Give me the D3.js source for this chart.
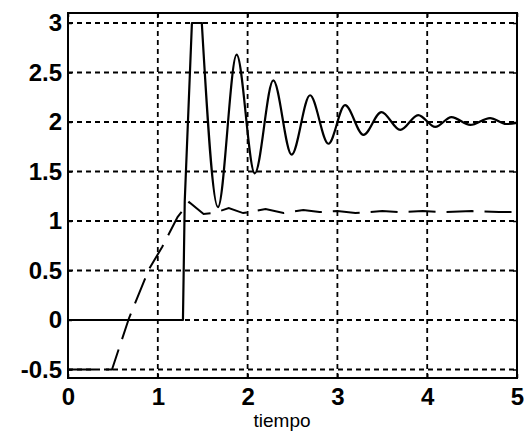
<!DOCTYPE html>
<html>
<head>
<meta charset="utf-8">
<script src="https://cdn.jsdelivr.net/npm/d3@7"></script>
<style>
  html, body { margin: 0; padding: 0; background: #fff; }
  svg { display: block; }
</style>
</head>
<body>
<svg id="chart" width="524" height="431"></svg>
<script>
// ---- data ----
const xTicks = [0, 1, 2, 3, 4, 5];
const yTicks = [-0.5, 0, 0.5, 1, 1.5, 2, 2.5, 3];
const yTickLabels = ["-0.5", "0", "0.5", "1", "1.5", "2", "2.5", "3"];
const xLabel = "tiempo";

// solid response (time, value)
const solidT = [0, 1.28, 1.30, 1.38, 1.49, 1.67, 1.878, 2.08, 2.286, 2.49, 2.695, 2.90, 3.085, 3.29, 3.49, 3.70, 3.90, 4.09, 4.27, 4.48, 4.70, 4.88, 5.0];
const solidV = [0, 0, 1.2, 3.0, 3.0, 1.14, 2.68, 1.48, 2.42, 1.67, 2.27, 1.78, 2.17, 1.87, 2.10, 1.92, 2.07, 1.95, 2.05, 1.97, 2.04, 1.98, 1.99];
const solidSharpCount = 5; // first points joined by straight segments (step + clipped top)

// dashed response (time, value)
const dashT = [0, 0.49, 0.68, 0.90, 1.05, 1.22, 1.35, 1.51, 1.62, 1.79, 1.95, 2.2, 2.4, 2.62, 2.8, 3.0, 3.2, 3.5, 3.7, 3.95, 4.2, 4.5, 4.8, 5.0];
const dashV = [-0.5, -0.5, 0.02, 0.51, 0.74, 1.04, 1.19, 1.07, 1.08, 1.13, 1.08, 1.12, 1.08, 1.11, 1.09, 1.10, 1.08, 1.10, 1.09, 1.10, 1.09, 1.10, 1.09, 1.09];

// ---- layout ----
const pL = 68, pR = 517, pT = 13, pB = 378;
const svg = d3.select("#chart");

const x = d3.scaleLinear().domain([0, 5]).range([pL, pR]);
const y = d3.scaleLinear().domain([-0.586, 3.101]).range([pB, pT]);

const font = "'Liberation Sans', Arial, sans-serif";

// grid
const grid = svg.append("g");
grid.selectAll("line.vg").data(xTicks).enter().append("line")
  .attr("x1", d => x(d)).attr("x2", d => x(d))
  .attr("y1", pT).attr("y2", pB)
  .attr("stroke", "#000").attr("stroke-width", 1.8)
  .attr("stroke-dasharray", "5,4");
grid.selectAll("line.hg").data(yTicks).enter().append("line")
  .attr("x1", pL).attr("x2", pR)
  .attr("y1", d => y(d)).attr("y2", d => y(d))
  .attr("stroke", "#000").attr("stroke-width", 1.8)
  .attr("stroke-dasharray", "5,4");

// axes (inward ticks, MATLAB style)
const axL = d3.axisLeft(y).tickValues(yTicks).tickSize(-4).tickPadding(6)
  .tickFormat((d, i) => yTickLabels[i]);
const axB = d3.axisBottom(x).tickValues(xTicks).tickSize(-4).tickPadding(10)
  .tickFormat(d3.format("d"));
const axR = d3.axisRight(y).tickValues(yTicks).tickSize(-4).tickFormat("");
const axT = d3.axisTop(x).tickValues(xTicks).tickSize(-4).tickFormat("");

function styleAxis(g) {
  g.select(".domain").remove();
  g.selectAll(".tick line").attr("stroke", "#000").attr("stroke-width", 1.5);
  g.selectAll(".tick text").attr("fill", "#000")
    .style("font-family", font).style("font-size", "24px").style("font-weight", "bold");
}
svg.append("g").attr("transform", `translate(${pL},0)`).call(axL).call(styleAxis);
svg.append("g").attr("transform", `translate(0,${pB})`).call(axB).call(styleAxis);
svg.append("g").attr("transform", `translate(${pR},0)`).call(axR).call(styleAxis);
svg.append("g").attr("transform", `translate(0,${pT})`).call(axT).call(styleAxis);

// lines
const solidData = solidT.map((t, i) => [t, solidV[i]]);
const dashData = dashT.map((t, i) => [t, dashV[i]]);

const lineSmooth = d3.line().x(d => x(d[0])).y(d => y(d[1])).curve(d3.curveMonotoneX);
const lineLin = d3.line().x(d => x(d[0])).y(d => y(d[1]));

svg.append("path").datum(dashData)
  .attr("d", lineLin)
  .attr("fill", "none").attr("stroke", "#000").attr("stroke-width", 2)
  .attr("stroke-dasharray", "27,11");

const solidG = svg.append("g")
  .attr("fill", "none").attr("stroke", "#000").attr("stroke-width", 2.2)
  .attr("stroke-linejoin", "round").attr("stroke-linecap", "round");
solidG.append("path").datum(solidData.slice(0, solidSharpCount)).attr("d", lineLin);
solidG.append("path").datum(solidData.slice(solidSharpCount - 1)).attr("d", lineSmooth);

// box
svg.append("rect")
  .attr("x", pL).attr("y", pT)
  .attr("width", pR - pL).attr("height", pB - pT)
  .attr("fill", "none").attr("stroke", "#000").attr("stroke-width", 2);

// x label
svg.append("text")
  .attr("x", 282).attr("y", 427)
  .attr("text-anchor", "middle")
  .style("font-family", font).style("font-size", "19px")
  .text(xLabel);
</script>
</body>
</html>
